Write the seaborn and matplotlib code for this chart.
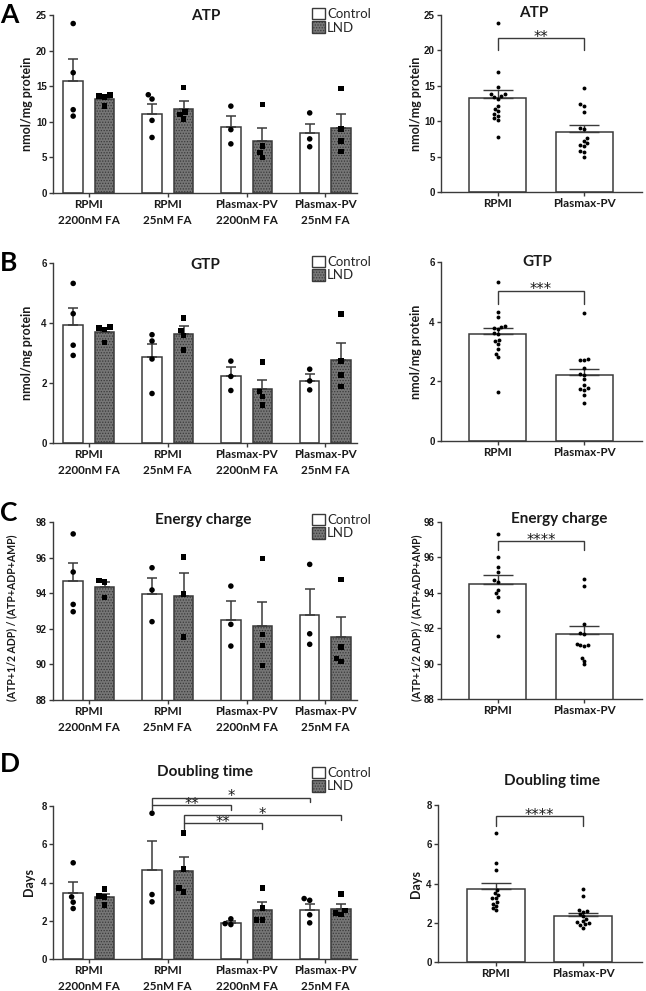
import numpy as np
import pandas as pd
import matplotlib
matplotlib.use('Agg')
import matplotlib.pyplot as plt
import seaborn as sns
from matplotlib.patches import Patch

sns.set_style('ticks')
plt.rcParams['font.family'] = ['Lato', 'DejaVu Sans']
plt.rcParams['hatch.color'] = '#262626'
plt.rcParams['hatch.linewidth'] = 0.6

# ---------------- data ----------------
groups = ['RPMI\n2200nM FA', 'RPMI\n25nM FA', 'Plasmax-PV\n2200nM FA', 'Plasmax-PV\n25nM FA']
treatments = ['Control', 'LND']
media = ['RPMI', 'Plasmax-PV']

# ATP (nmol/mg protein)
atp_ctrl_mean = [15.75, 11.11, 9.28, 8.44]
atp_ctrl_sem = [3.05, 1.45, 1.60, 1.26]
atp_lnd_mean = [13.22, 11.81, 7.36, 9.14]
atp_lnd_sem = [0.38, 1.09, 1.74, 2.02]
atp_ctrl_pts = [[23.8, 16.9, 11.7, 10.8], [13.8, 13.2, 10.2, 7.8], [12.2, 8.9, 6.9], [11.25, 7.6, 6.5]]
atp_lnd_pts = [[13.8, 13.6, 13.45, 12.2], [14.8, 11.4, 11.0, 10.4], [12.4, 6.6, 5.7, 5.0], [14.7, 9.0, 7.27, 5.8]]
atp_pool_mean = [13.30, 8.52]
atp_pool_sem = [1.07, 0.89]
atp_rpmi_pts = [23.8, 16.9, 14.8, 13.8, 13.8, 13.6, 13.45, 13.2, 12.2, 11.7, 11.4, 11.0, 10.8, 10.4, 10.2, 7.8]
atp_plasmax_pts = [14.7, 12.4, 12.2, 11.25, 9.0, 8.9, 7.6, 7.27, 6.9, 6.6, 6.5, 5.8, 5.7, 5.0]

# GTP (nmol/mg protein)
gtp_ctrl_mean = [3.93, 2.86, 2.22, 2.08]
gtp_ctrl_sem = [0.56, 0.44, 0.30, 0.22]
gtp_lnd_mean = [3.70, 3.65, 1.79, 2.78]
gtp_lnd_sem = [0.09, 0.25, 0.32, 0.55]
gtp_ctrl_pts = [[5.32, 4.31, 3.26, 2.92], [3.61, 3.40, 2.80, 1.65], [2.73, 2.22, 1.75], [2.46, 2.07, 1.77]]
gtp_lnd_pts = [[3.86, 3.83, 3.79, 3.35], [4.17, 3.75, 3.58, 3.10], [2.70, 1.71, 1.55, 1.27], [4.30, 2.74, 2.26, 1.88]]
gtp_pool_mean = [3.58, 2.22]
gtp_pool_sem = [0.22, 0.21]
gtp_rpmi_pts = [5.32, 4.31, 4.17, 3.86, 3.83, 3.79, 3.75, 3.61, 3.58, 3.40, 3.35, 3.26, 3.10, 2.92, 2.80, 1.65]
gtp_plasmax_pts = [4.30, 2.74, 2.73, 2.70, 2.46, 2.26, 2.22, 2.07, 1.88, 1.77, 1.75, 1.71, 1.55, 1.27]

# Energy charge
ec_ctrl_mean = [94.67, 93.97, 92.51, 92.79]
ec_ctrl_sem = [1.03, 0.90, 1.03, 1.45]
ec_lnd_mean = [94.33, 93.82, 92.14, 91.52]
ec_lnd_sem = [0.30, 1.31, 1.35, 1.12]
ec_ctrl_pts = [[97.33, 95.19, 93.37, 92.96], [95.43, 94.18, 92.40], [94.40, 92.25, 91.03], [95.62, 91.72, 91.13]]
ec_lnd_pts = [[94.72, 94.63, 93.77], [96.03, 93.97, 91.54], [95.96, 91.67, 91.07, 89.95], [94.76, 90.98, 90.34, 90.17]]
ec_pool_mean = [94.49, 91.67]
ec_pool_sem = [0.51, 0.48]
ec_rpmi_pts = [97.33, 96.03, 95.43, 95.19, 94.72, 94.63, 94.18, 93.97, 93.77, 92.96, 91.54]
ec_plasmax_pts = [94.76, 94.40, 92.25, 91.72, 91.67, 91.13, 91.07, 91.03, 90.98, 90.34, 90.17, 89.95]

# Doubling time (days)
dt_ctrl_mean = [3.46, 4.63, 1.89, 2.55]
dt_ctrl_sem = [0.56, 1.54, 0.09, 0.31]
dt_lnd_mean = [3.25, 4.59, 2.57, 2.62]
dt_lnd_sem = [0.16, 0.75, 0.40, 0.26]
dt_ctrl_pts = [[5.03, 3.25, 2.97, 2.64], [7.62, 3.37, 2.99], [2.10, 1.85, 1.80], [3.16, 3.07, 2.31, 1.89]]
dt_lnd_pts = [[3.65, 3.28, 3.25, 2.81], [6.59, 4.72, 3.70, 3.51], [3.70, 2.67, 2.04, 2.04], [3.39, 2.53, 2.41, 2.32]]
dt_pool_mean = [3.74, 2.35]
dt_pool_sem = [0.31, 0.17]
dt_rpmi_pts = [6.55, 5.02, 4.68, 3.69, 3.52, 3.40, 3.28, 3.25, 3.05, 2.98, 2.85, 2.77, 2.64]
dt_plasmax_pts = [3.71, 3.35, 2.64, 2.58, 2.55, 2.45, 2.35, 2.20, 2.10, 2.02, 1.97, 1.93, 1.88, 1.75]

# significance annotations: (group a, treatment, group b, level, left end, right end, label)
dt_brackets = [
    (1, 'Control', 2, 8.03, 7.79, 7.79, '**'),
    (1, 'Control', 3, 8.44, 8.03, 8.21, '*'),
    (1, 'LND', 2, 7.09, 6.78, 6.78, '**'),
    (1, 'LND', 3, 7.51, 7.09, 7.25, '*'),
]

# ---------------- style ----------------
EDGE = '#3a3a3a'
LND_FILL = '#767676'
TXT = '#1a1a1a'
W, H = 646, 991

fig = plt.figure(figsize=(W / 100, H / 100), dpi=100)
fig.patch.set_facecolor('white')


def axes_px(x0, x1, top, bottom):
    return fig.add_axes([x0 / W, 1 - bottom / H, (x1 - x0) / W, (bottom - top) / H])


def style_axes(ax, ylim, yticks, ylabel, ylabel_xy, ylabel_size):
    ax.set_ylim(*ylim)
    ax.set_yticks(yticks, labels=[str(t) for t in yticks], fontsize=7,
                  fontweight='bold', family=['Liberation Sans'], color=TXT)
    for s in ['top', 'right']:
        ax.spines[s].set_visible(False)
    for s in ['left', 'bottom']:
        ax.spines[s].set_color(EDGE)
        ax.spines[s].set_linewidth(1.0)
    ax.tick_params(axis='both', direction='out', length=3, width=1.0, color=EDGE, pad=1.5)
    ax.set_xlabel('')
    ax.set_ylabel(ylabel, fontsize=ylabel_size, fontweight='bold', color=TXT)
    ax.yaxis.set_label_coords(*ylabel_xy)
    ax.set_facecolor('none')


def bracket(ax, xa, xb, level, ya, yb, label, fs=10.5):
    ax.plot([xa, xa, xb, xb], [ya, level, level, yb], color=EDGE, lw=1.0,
            clip_on=False, zorder=5, solid_joinstyle='miter')
    ax.annotate(label, xy=((xa + xb) / 2, level), xytext=(0, -2.6),
                textcoords='offset points', ha='center', va='baseline',
                fontsize=fs, color=TXT, annotation_clip=False,
                family=['DejaVu Sans'])


def left_panel(ax, ctrl_mean, ctrl_sem, lnd_mean, lnd_sem, ctrl_pts, lnd_pts,
               ylim, yticks, ylabel, ylabel_xy, ylabel_size, title, title_xy, legend_top):
    bdf = pd.DataFrame({'group': groups * 2,
                        'treatment': ['Control'] * 4 + ['LND'] * 4,
                        'value': list(ctrl_mean) + list(lnd_mean)})
    sns.barplot(data=bdf, x='group', y='value', hue='treatment', order=groups,
                hue_order=treatments, palette={'Control': 'white', 'LND': LND_FILL},
                saturation=1, edgecolor=EDGE, linewidth=1.1, errorbar=None,
                width=0.8, gap=0.38, legend=False, ax=ax, zorder=2)
    bars = list(ax.containers[:2])
    for p in bars[1]:
        p.set_hatch('......')
    for cont, means, sems in zip(bars, [ctrl_mean, lnd_mean], [ctrl_sem, lnd_sem]):
        xs = [p.get_x() + p.get_width() / 2 for p in cont]
        ax.errorbar(xs, means, yerr=[np.zeros(len(sems)), sems], fmt='none',
                    ecolor=EDGE, elinewidth=1.1, capsize=3.6, capthick=1.1, zorder=3)
    rows = []
    for trt, pts in zip(treatments, [ctrl_pts, lnd_pts]):
        for g, vals in zip(groups, pts):
            rows += [(g, trt, v) for v in vals]
    pdf = pd.DataFrame(rows, columns=['group', 'treatment', 'value'])
    for trt, mk in zip(treatments, ['o', 's']):
        sns.swarmplot(data=pdf[pdf.treatment == trt], x='group', y='value', hue='treatment',
                      order=groups, hue_order=treatments, dodge=True,
                      palette={'Control': 'black', 'LND': 'black'}, marker=mk,
                      size=4, legend=False, ax=ax, zorder=4)
    ax.set_xlim(-0.456, 3.40)
    ax.set_xticks(range(len(groups)), labels=groups, fontsize=8.4, fontweight='bold',
                  linespacing=1.5, color=TXT)
    style_axes(ax, ylim, yticks, ylabel, ylabel_xy, ylabel_size)
    ax.text(title_xy[0], title_xy[1], title, transform=ax.transAxes, ha='center',
            va='center', fontsize=11, fontweight='bold', color=TXT)
    handles = [Patch(facecolor='white', edgecolor=EDGE, linewidth=1.0),
               Patch(facecolor=LND_FILL, edgecolor=EDGE, linewidth=1.0, hatch='......')]
    ax.legend(handles=handles, labels=treatments, loc='upper left',
              bbox_to_anchor=(0.852, legend_top), frameon=False, fontsize=9.5,
              handlelength=0.95, handleheight=0.95, handletextpad=0.2,
              labelspacing=0.08, borderpad=0, borderaxespad=0)
    return bars


def right_panel(ax, means, sems, rpmi_pts, plasmax_pts, ylim, yticks, ylabel,
                ylabel_xy, ylabel_size, title, title_xy, level, drop, label):
    bdf = pd.DataFrame({'medium': media, 'value': means})
    sns.barplot(data=bdf, x='medium', y='value', order=media, color='white',
                saturation=1, edgecolor=EDGE, linewidth=1.1, errorbar=None,
                width=0.66, ax=ax, zorder=2)
    xs = [p.get_x() + p.get_width() / 2 for p in ax.containers[0]]
    ax.errorbar(xs, means, yerr=[np.zeros(len(sems)), sems], fmt='none', ecolor=EDGE,
                elinewidth=1.0, capsize=10.8, capthick=1.0, zorder=3)
    pdf = pd.DataFrame({'medium': ['RPMI'] * len(rpmi_pts) + ['Plasmax-PV'] * len(plasmax_pts),
                        'value': list(rpmi_pts) + list(plasmax_pts)})
    sns.swarmplot(data=pdf, x='medium', y='value', order=media, color='black',
                  size=2.8, ax=ax, zorder=4)
    ax.set_xlim(-0.66, 1.67)
    ax.set_xticks(range(len(media)), labels=media, fontsize=8.4, fontweight='bold', color=TXT)
    style_axes(ax, ylim, yticks, ylabel, ylabel_xy, ylabel_size)
    ax.text(title_xy[0], title_xy[1], title, transform=ax.transAxes, ha='center',
            va='center', fontsize=11, fontweight='bold', color=TXT)
    bracket(ax, xs[0], xs[1], level, drop, drop, label)


NMOL = 'nmol/mg protein'
ECLAB = '(ATP+1/2 ADP) / (ATP+ADP+AMP)'

# Panel A
axA = axes_px(53, 357, 15, 193)
left_panel(axA, atp_ctrl_mean, atp_ctrl_sem, atp_lnd_mean, atp_lnd_sem, atp_ctrl_pts, atp_lnd_pts,
           (0, 25), [0, 5, 10, 15, 20, 25], NMOL, (-0.066, 0.5), 9, 'ATP', (0.503, 0.994), 1.039)
axA2 = axes_px(441, 642, 15, 192)
right_panel(axA2, atp_pool_mean, atp_pool_sem, atp_rpmi_pts, atp_plasmax_pts,
            (0, 25), [0, 5, 10, 15, 20, 25], NMOL, (-0.095, 0.5), 9, 'ATP', (0.46, 1.011),
            21.72, 20.0, '**')

# Panel B
axB = axes_px(53, 357, 263, 443)
left_panel(axB, gtp_ctrl_mean, gtp_ctrl_sem, gtp_lnd_mean, gtp_lnd_sem, gtp_ctrl_pts, gtp_lnd_pts,
           (0, 6), [0, 2, 4, 6], NMOL, (-0.066, 0.5), 9, 'GTP', (0.50, 0.989), 1.039)
axB2 = axes_px(441, 642, 262, 441)
right_panel(axB2, gtp_pool_mean, gtp_pool_sem, gtp_rpmi_pts, gtp_plasmax_pts,
            (0, 6), [0, 2, 4, 6], NMOL, (-0.095, 0.5), 9, 'GTP', (0.48, 0.998),
            5.04, 4.6, '***')

# Panel C
axC = axes_px(53, 357, 522, 700)
left_panel(axC, ec_ctrl_mean, ec_ctrl_sem, ec_lnd_mean, ec_lnd_sem, ec_ctrl_pts, ec_lnd_pts,
           (88, 98), [88, 90, 92, 94, 96, 98], ECLAB, (-0.118, 0.46), 7.6, 'Energy charge',
           (0.494, 1.011), 1.045)
axC2 = axes_px(441, 642, 522, 699)
right_panel(axC2, ec_pool_mean, ec_pool_sem, ec_rpmi_pts, ec_plasmax_pts,
            (88, 98), [88, 90, 92, 94, 96, 98], ECLAB, (-0.095, 0.46), 7.6, 'Energy charge',
            (0.589, 1.015), 96.91, 96.4, '****')

# Panel D
axD = axes_px(53, 357, 806, 959)
barsD = left_panel(axD, dt_ctrl_mean, dt_ctrl_sem, dt_lnd_mean, dt_lnd_sem, dt_ctrl_pts, dt_lnd_pts,
                   (0, 8), [0, 2, 4, 6, 8], 'Days', (-0.059, 0.5), 9, 'Doubling time',
                   (0.50, 1.222), 1.255)
for ga, trt, gb, level, ya, yb, label in dt_brackets:
    cont = barsD[treatments.index(trt)]
    xa = cont[ga].get_x() + cont[ga].get_width() / 2
    xb = cont[gb].get_x() + cont[gb].get_width() / 2
    bracket(axD, xa, xb, level, ya, yb, label)
axD2 = axes_px(438, 642, 805, 962)
right_panel(axD2, dt_pool_mean, dt_pool_sem, dt_rpmi_pts, dt_plasmax_pts,
            (0, 8), [0, 2, 4, 6, 8], 'Days', (-0.08, 0.5), 9, 'Doubling time',
            (0.56, 1.155), 7.44, 6.93, '****')

# panel letters
for letter, ypx in zip(['A', 'B', 'C', 'D'], [15, 263, 513, 764]):
    fig.text(0 / W, 1 - ypx / H, letter, fontsize=19, fontweight='bold', ha='left',
             va='center', color='black')

fig.savefig('out.png', dpi=100, facecolor='white')
